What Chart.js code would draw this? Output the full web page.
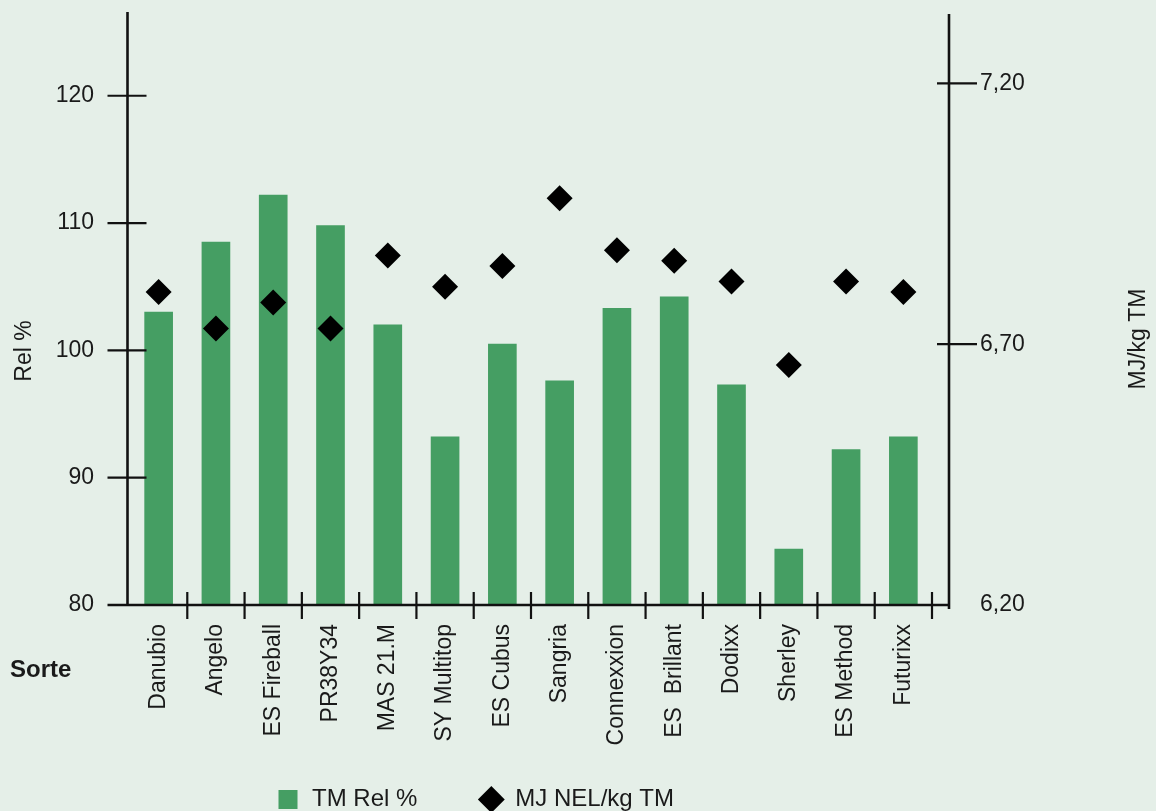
<!DOCTYPE html>
<html>
<head>
<meta charset="utf-8">
<title>TM Rel % / MJ NEL</title>
<script src="https://cdn.jsdelivr.net/npm/chart.js@4"></script>
<style>
  html, body { margin: 0; padding: 0; background: #e5efe8; }
  canvas { display: block; }
</style>
</head>
<body>
<canvas id="chart" width="1156" height="811"></canvas>
<script>
// Sorten und Werte
const sorten = ['Danubio', 'Angelo', 'ES Fireball', 'PR38Y34', 'MAS 21.M', 'SY Multitop', 'ES Cubus',
                'Sangria', 'Connexxion', 'ES  Brillant', 'Dodixx', 'Sherley', 'ES Method', 'Futurixx'];
const tmRel = [103.0, 108.5, 112.2, 109.8, 102.0, 93.2, 100.5, 97.6, 103.3, 104.2, 97.3, 84.4, 92.2, 93.2];
const mjNel = [6.80, 6.73, 6.78, 6.73, 6.87, 6.81, 6.85, 6.98, 6.88, 6.86, 6.82, 6.66, 6.82, 6.80];

// Achsenbeschriftung
const leftTicks = [80, 90, 100, 110, 120];
const rightTicks = [6.2, 6.7, 7.2];

const FONT = '"Liberation Sans", Arial, sans-serif';
const INK = '#1a1a1a';
const BG = '#e5efe8';
const GREEN = '#459e63';

Chart.defaults.font.family = FONT;
Chart.defaults.color = INK;

// keine Zusatzabstände der Achsen, damit die Fläche genau sitzt
const noPad = scale => {
    scale.paddingTop = 0;
    scale.paddingBottom = 0;
    scale.paddingLeft = 0;
    scale.paddingRight = 0;
};

// Hintergrund, Achsenlinien, Striche und Achsentitel
const achsen = {
    id: 'achsen',
    beforeDraw(chart) {
        const ctx = chart.ctx;
        ctx.save();
        ctx.fillStyle = BG;
        ctx.fillRect(0, 0, chart.width, chart.height);
        ctx.restore();
    },
    afterLayout(chart) {
        // Legende wie im Original etwas nach links / unten setzen
        const lg = chart.legend;
        const pad = lg.options.labels.padding;
        const dx = 276 - (lg.left + pad + lg.right - lg.lineWidths[0]) / 2;
        const dy = 787.5 - (lg.top + pad);
        lg.left += dx; lg.right += dx;
        lg.top += dy; lg.bottom += dy;
        // senkrechte Sortennamen nicht abschneiden
        chart.scales.x.bottom = chart.height;
    },
    afterDatasetsDraw(chart) {
        const { ctx, chartArea: a, scales: { x, y, y1 } } = chart;
        const lx = a.left - 2.5;
        const rx = a.right + 17;
        const line = (x0, y0, x2, y2) => {
            ctx.beginPath();
            ctx.moveTo(x0, y0);
            ctx.lineTo(x2, y2);
            ctx.stroke();
        };
        ctx.save();
        ctx.strokeStyle = '#111';
        ctx.lineWidth = 2.6;
        line(lx, a.top - 1, lx, a.bottom);
        line(rx, a.top + 1, rx, a.bottom + 4);
        line(lx - 20, a.bottom, rx + 1, a.bottom);

        ctx.lineWidth = 2.2;
        leftTicks.slice(1).forEach(v => {
            const py = y.getPixelForValue(v);
            line(lx - 20, py, lx + 19, py);
        });
        rightTicks.slice(1).forEach(v => {
            const py = y1.getPixelForValue(v);
            line(rx - 12, py, rx + 28, py);
        });
        const step = x.getPixelForValue(1) - x.getPixelForValue(0);
        sorten.forEach((s, i) => {
            const bx = x.getPixelForValue(i) + step / 2;
            line(bx, a.bottom - 13, bx, a.bottom + 14);
        });

        // Achsentitel
        ctx.fillStyle = INK;
        ctx.font = '23px ' + FONT;
        ctx.textAlign = 'center';
        ctx.textBaseline = 'alphabetic';
        ctx.save();
        ctx.translate(31, 351);
        ctx.rotate(-Math.PI / 2);
        ctx.fillText('Rel %', 0, 0);
        ctx.restore();
        ctx.save();
        ctx.translate(1145, 339);
        ctx.rotate(-Math.PI / 2);
        ctx.fillText('MJ/kg TM', 0, 0);
        ctx.restore();

        ctx.font = 'bold 24px ' + FONT;
        ctx.textAlign = 'left';
        ctx.fillText('Sorte', 10, 677);
        ctx.restore();
    }
};

const ctx = document.getElementById('chart').getContext('2d');
new Chart(ctx, {
    data: {
        labels: sorten,
        datasets: [
            {
                type: 'bar',
                label: 'TM Rel %',
                data: tmRel,
                backgroundColor: GREEN,
                borderWidth: 0,
                barThickness: 28,
                yAxisID: 'y',
                order: 2
            },
            {
                type: 'line',
                label: 'MJ NEL/kg TM',
                data: mjNel,
                showLine: false,
                borderColor: '#000',
                borderWidth: 0,
                pointStyle: 'rectRot',
                pointRadius: 13,
                pointBackgroundColor: '#000',
                pointBorderWidth: 0,
                yAxisID: 'y1',
                order: 1
            }
        ]
    },
    options: {
        responsive: false,
        devicePixelRatio: 1,
        animation: false,
        events: [],
        layout: { padding: { top: 13, left: 0, right: 0, bottom: 0 } },
        scales: {
            x: {
                type: 'category',
                offset: true,
                grid: { display: false, drawTicks: false },
                border: { display: false },
                ticks: {
                    autoSkip: false,
                    maxRotation: 90,
                    minRotation: 90,
                    padding: 19,
                    color: INK,
                    font: { size: 23 }
                },
                afterFit(scale) { scale.height = 110; noPad(scale); }
            },
            y: {
                position: 'left',
                min: 80,
                max: 126.5,
                grid: { display: false, drawTicks: false },
                border: { display: false },
                ticks: { padding: 36, color: INK, font: { size: 23 } },
                afterBuildTicks(scale) { scale.ticks = leftTicks.map(v => ({ value: v })); },
                afterFit(scale) { scale.width = 130; noPad(scale); }
            },
            y1: {
                position: 'right',
                min: 6.2,
                max: 7.335,
                grid: { display: false, drawTicks: false },
                border: { display: false },
                ticks: {
                    padding: 48,
                    color: INK,
                    font: { size: 23 },
                    callback: v => v.toFixed(2).replace('.', ',')
                },
                afterBuildTicks(scale) { scale.ticks = rightTicks.map(v => ({ value: v })); },
                afterFit(scale) { scale.width = 224; noPad(scale); }
            }
        },
        plugins: {
            tooltip: { enabled: false },
            legend: {
                position: 'bottom',
                labels: {
                    usePointStyle: true,
                    boxHeight: 19,
                    padding: 62,
                    color: INK,
                    font: { size: 24 },
                    sort: (a, b) => a.datasetIndex - b.datasetIndex,
                    generateLabels(chart) {
                        const items = Chart.defaults.plugins.legend.labels.generateLabels(chart);
                        items.forEach(it => {
                            it.pointStyle = it.datasetIndex === 0 ? 'rect' : 'rectRot';
                            it.lineWidth = 0;
                        });
                        return items;
                    }
                }
            }
        }
    },
    plugins: [achsen]
});
</script>
</body>
</html>
